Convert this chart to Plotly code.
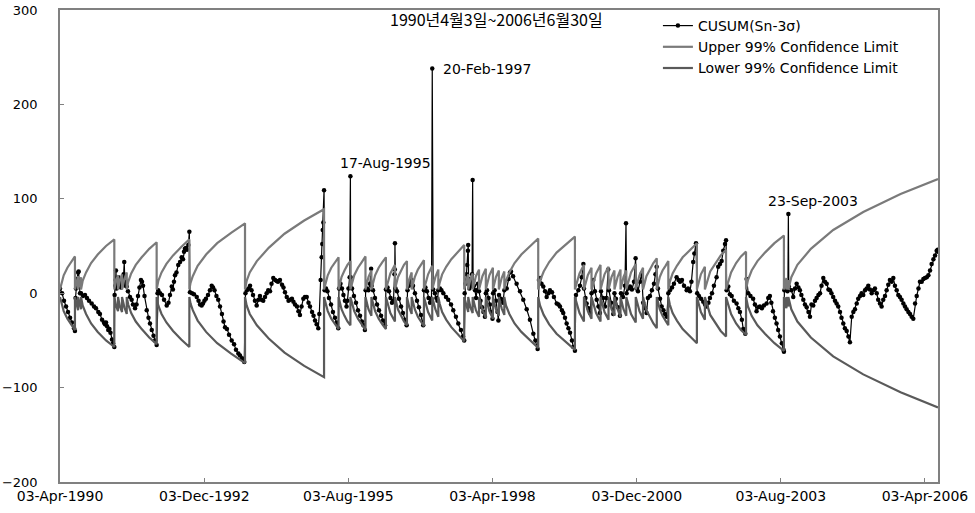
import pandas as pd
import plotly.graph_objects as go

START = pd.Timestamp("1990-04-03")

# ---- CUSUM(Sn-3sigma): day index since 1990-04-03 and value ----
cusum_day = [
    0, 14, 27, 41, 54, 68, 81, 95, 101,
    105, 108, 115, 122, 126, 130, 135,
    142, 155, 169, 182, 196, 214, 230, 243, 259, 270, 284, 297, 304, 311, 318, 326, 334, 341, 351, 358, 367,
    369, 374, 376, 378, 382, 387, 394, 399, 405, 412, 419, 426, 430, 434, 438, 443, 451, 459, 473, 484, 493, 507, 517, 527, 537, 547, 554, 561, 571, 586, 598, 608, 620, 632, 642, 653,
    659, 664, 676, 689, 703, 721, 733, 743, 755, 763, 770, 777, 787, 799, 811, 822, 831, 838, 844, 851, 858, 867, 874,
    878, 892, 905, 924, 936, 946, 957, 966, 976, 986, 1000, 1013, 1025, 1034, 1044, 1057, 1069, 1081, 1094, 1105, 1115, 1128, 1142, 1160, 1176, 1189, 1205, 1216, 1230, 1245,
    1253, 1263, 1273, 1284, 1294, 1304, 1317, 1329, 1341, 1351, 1361, 1373, 1385, 1396, 1407, 1419, 1429, 1441, 1453, 1464, 1473, 1486, 1500, 1510, 1520, 1532, 1544, 1554, 1567, 1577, 1588, 1601, 1611, 1621, 1632, 1644, 1655, 1667, 1679, 1689, 1703, 1713, 1723, 1734, 1745, 1752, 1761, 1768, 1772, 1775, 1779, 1784,
    1788, 1797, 1807, 1817, 1831, 1844, 1858, 1870, 1880,
    1885, 1895, 1905, 1915, 1925, 1936, 1942, 1949, 1957, 1962, 1964,
    1973, 1986, 2000, 2013, 2027, 2040, 2050, 2060,
    2065, 2074, 2084, 2094, 2102, 2106, 2115, 2128, 2142, 2155, 2169, 2182, 2196,
    2202, 2213, 2223, 2233, 2243, 2253, 2260, 2262, 2263, 2267, 2277, 2290, 2304, 2317, 2331, 2342,
    2348, 2358, 2368, 2376, 2385, 2398, 2412, 2425, 2439, 2454,
    2459, 2469, 2479, 2490, 2500, 2510, 2515, 2521, 2533, 2543, 2550,
    2556, 2567, 2577, 2590, 2608, 2623, 2642, 2657, 2675, 2691, 2709, 2723, 2731,
    2734, 2739, 2746, 2751, 2756, 2758, 2761, 2766, 2773, 2780, 2784, 2788, 2791, 2797, 2804, 2811, 2818, 2824, 2831, 2841, 2851, 2861, 2871,
    2877, 2885, 2895, 2905, 2915, 2922, 2926, 2936, 2946, 2956, 2962, 2966, 2979, 2993,
    3002, 3018, 3031, 3040, 3047, 3061, 3085, 3108, 3130, 3153, 3175, 3198, 3212, 3227,
    3236, 3243, 3253, 3265, 3277, 3288, 3300, 3310, 3324, 3337, 3356, 3368, 3378, 3391, 3400, 3412, 3423, 3435, 3446, 3459, 3468, 3479,
    3486, 3502, 3513, 3525, 3536, 3540, 3550, 3558, 3571, 3581, 3591, 3603, 3614, 3626, 3638, 3648, 3655, 3669, 3682, 3692, 3704, 3709, 3723, 3738, 3746, 3756, 3770, 3783, 3790, 3804, 3817, 3824, 3828, 3839, 3851, 3864, 3878, 3889, 3895, 3905, 3918, 3930, 3940, 3952, 3963, 3972, 3986, 3999, 4013, 4023, 4031, 4040, 4054, 4065, 4077, 4087, 4099,
    4110, 4121, 4135, 4148, 4166, 4179, 4189, 4202, 4216, 4234, 4243, 4256, 4266, 4278, 4286, 4297,
    4305, 4317, 4331, 4346, 4358, 4369, 4381, 4391, 4405, 4418, 4436, 4447, 4459, 4470, 4481, 4493, 4500,
    4504, 4515, 4526, 4538, 4553, 4571, 4583, 4594, 4607, 4616, 4630,
    4639, 4650, 4665, 4683, 4695, 4706, 4717, 4729, 4742, 4756, 4774, 4785, 4796, 4806, 4817, 4830, 4841, 4852, 4864, 4877, 4888, 4891,
    4894, 4905, 4915, 4918, 4921, 4924, 4942, 4954, 4966, 4977, 4989, 4999, 5009, 5022, 5033, 5045, 5057, 5067, 5077, 5089, 5101, 5112, 5124, 5135, 5145, 5157, 5168, 5180, 5192, 5202, 5212, 5224, 5236, 5247, 5258, 5270, 5280, 5292, 5303, 5315, 5327, 5337,
    5349, 5360, 5371, 5383, 5393, 5405, 5416, 5427, 5439, 5450, 5461, 5472, 5484, 5495, 5506, 5518, 5528, 5540, 5551, 5562, 5574, 5585, 5596, 5607, 5619, 5630, 5641, 5653, 5664, 5675, 5686, 5698, 5709, 5720, 5732, 5743, 5754, 5765,
    5777, 5788, 5800, 5810, 5822, 5833, 5844, 5856, 5867, 5878, 5889, 5901, 5912, 5923, 5930, 5932,
]
cusum_value = [
    5, 0, -8, -14, -20, -26, -31, -37, -40,
    -5, 5, 15, 22, 23, 10, 0,
    0, -3, -2, -5, -8, -11, -14, -16, -20, -22, -28, -31, -33, -31, -35, -39, -38, -42, -49, -53, -57,
    -2, 8, 14, 24, 5, 16, 17, 9, 14, 6, 12, 10, 20, 33, 12, 8, 7, 2, -4, -7, -12, -16, -12, -3, 6, 14, 12, 8, -3, -18, -26, -32, -39, -45, -50, -55,
    0, 3, 0, -2, -7, -13, -10, -2, 7, 4, 12, 19, 22, 30, 33, 38, 36, 44, 47, 48, 46, 51, 65,
    1, 0, -1, -4, -8, -12, -13, -11, -8, -6, -2, 3, 8, 6, 3, -3, -7, -14, -22, -30, -36, -38, -44, -50, -54, -60, -64, -66, -69, -73,
    0, 3, 5, 8, 3, -2, -8, -13, -7, -3, -7, -8, -4, 0, 3, 2, 10, 16, 14, 13, 12, 14, 9, 6, 1, -4, -8, -7, -6, -9, -12, -14, -19, -23, -14, -6, -4, -4, -10, -14, -20, -24, -29, -33, -37, -22, 14, 38, 52, 67, 75, 109,
    3, 5, 2, -5, -12, -20, -26, -31, -37,
    5, 10, 5, -2, -8, -14, -8, 5, 17, 124, 17,
    5, -3, -10, -18, -24, -30, -34, -39,
    3, 5, 3, 10, 26, 8, 3, -5, -12, -18, -24, -29, -34,
    4, 6, 2, -5, -10, -8, 20, 25, 53, 5, 2, -6, -14, -21, -28, -34,
    3, 8, 12, 14, 8, 0, -8, -15, -23, -34,
    3, 6, 2, -5, -10, -6, 238, 4, 0, -5, -8,
    3, 5, 3, 0, -4, -7, -12, -18, -25, -32, -39, -46, -50,
    0, 10, 20, 30, 45, 51, 10, 5, 15, 8, 20, 120, 12, 8, 3, -5, 3, 10, 2, -8, -15, -20, -25,
    0, 3, -5, -12, -20, -27, 0, 3, -8, -20, -29, -2, -6, -10,
    3, 5, 15, 22, 23, 18, 10, 2, -7, -17, -28, -43, -50, -59,
    14, 16, 10, 7, 2, -4, 0, 3, 1, -4, -11, -12, -14, -18, -21, -26, -32, -37, -42, -50, -57, -61,
    -2, 3, 8, 17, 31, 5, -5, -11, -16, -21, 0, 14, 2, -7, -14, -21, 2, -5, -14, -5, 25, 3, -10, -22, 0, -6, -15, -24, 0, -4, 8, 74, 0, 5, 7, 4, 12, 37, 5, 2, 12, 21, -10, -16, -21, -5, -3, 3, 10, 20, 28, 5, -6, -14, -18, -22, -25,
    0, 3, 6, 10, 17, 14, 12, 14, 8, 3, 5, 2, 12, 33, 42, 53,
    0, -3, -6, -9, -12, -14, -10, -5, 0, 8, 17, 28, 31, 34, 45, 52, 56,
    3, 7, -1, -3, -8, -11, -16, -20, -28, -38, -43,
    15, 0, -3, -6, -12, -19, -15, -14, -16, -13, -11, -5, -3, -10, -19, -26, -32, -39, -46, -53, -60, -62,
    3, 6, 2, 8, 84, 7, 3, -4, 5, 10, 6, 3, -2, -7, -12, -15, -20, -25, -12, -13, -8, -5, -2, 0, 8, 16, 12, 10, 4, 3, 0, -4, -8, -11, -14, -20, -26, -32, -37, -40, -46, -52,
    -25, -20, -17, -11, -6, -3, 0, -2, 3, 5, 8, 4, 0, 3, 5, 0, -7, -11, -14, -7, -3, 3, 9, 14, 12, 16, 8, 3, -2, -4, -7, -11, -14, -17, -20, -22, -25, -27,
    -11, -3, 5, 12, 12, 15, 16, 17, 19, 24, 31, 36, 40, 45, 46, 44,
]

# ---- 99% confidence limits (reset after each exceedance) ----
limit_day = [
    0, 25, 50, 75, 101,
    101, 111, 122,
    122, 132, 142,
    142, 153, 176, 210, 255, 311, 367,
    367, 380, 392,
    392, 405, 419,
    419, 435, 451,
    451, 461, 481, 512, 552, 603, 653,
    653, 664, 686, 719, 764, 819, 874,
    874, 882, 897, 930, 987, 1062, 1156, 1250,
    1250, 1261, 1282, 1330, 1410, 1517, 1650, 1784,
    1784, 1809, 1833, 1858, 1882,
    1882, 1902, 1922, 1942, 1962,
    1962, 1988, 2013, 2039, 2064,
    2064, 2084, 2104,
    2104, 2129, 2153, 2178, 2202,
    2202, 2232, 2263,
    2263, 2283, 2304, 2324, 2344,
    2344, 2360, 2376,
    2376, 2397, 2418, 2438, 2459,
    2459, 2487, 2515,
    2515, 2536, 2556,
    2556, 2565, 2582, 2609, 2644, 2687, 2731,
    2731, 2745, 2758,
    2758, 2773, 2788,
    2788, 2810, 2831,
    2831, 2854, 2877,
    2877, 2901, 2925,
    2925, 2945, 2965,
    2965, 2984, 3002,
    3002, 3013, 3036, 3071, 3117, 3174, 3231,
    3231, 3243, 3268, 3305, 3355, 3417, 3479,
    3479, 3510, 3540,
    3540, 3566, 3591,
    3591, 3622, 3652,
    3652, 3679, 3706,
    3706, 3726, 3746,
    3746, 3767, 3787,
    3787, 3807, 3826,
    3826, 3858, 3890,
    3890, 3915, 3939,
    3939, 3962, 3986, 4009, 4032,
    4032, 4052, 4071, 4091, 4110,
    4110, 4120, 4139, 4168, 4207, 4255, 4303,
    4303, 4330, 4357,
    4357, 4393, 4429, 4464, 4500,
    4500, 4534, 4568, 4601, 4635,
    4635, 4648, 4673, 4712, 4763, 4827, 4891,
    4891, 4900, 4908,
    4908, 4915, 4921,
    4921, 4941, 4982, 5073, 5224, 5427, 5679, 5932,
]
upper_limit = [
    4, 19, 27, 33, 39,
    4, 12, 18,
    4, 12, 17,
    4, 13, 22, 32, 41, 50, 57,
    4, 14, 19,
    4, 14, 20,
    4, 15, 22,
    4, 12, 21, 30, 38, 47, 54,
    4, 13, 22, 31, 40, 49, 57,
    4, 11, 18, 29, 41, 53, 64, 74,
    4, 13, 22, 34, 48, 63, 77, 89,
    4, 19, 27, 33, 38,
    4, 17, 24, 30, 34,
    4, 19, 27, 33, 39,
    4, 17, 24,
    4, 19, 27, 33, 38,
    4, 21, 30,
    4, 17, 24, 30, 34,
    4, 15, 22,
    4, 17, 25, 30, 35,
    4, 20, 29,
    4, 17, 25,
    4, 11, 20, 28, 36, 44, 51,
    4, 14, 20,
    4, 15, 21,
    4, 18, 25,
    4, 18, 26,
    4, 19, 27,
    4, 17, 24,
    4, 16, 23,
    4, 13, 22, 32, 41, 50, 58,
    4, 13, 23, 33, 43, 52, 60,
    4, 21, 30,
    4, 19, 27,
    4, 21, 30,
    4, 20, 28,
    4, 17, 24,
    4, 17, 25,
    4, 17, 24,
    4, 22, 31,
    4, 19, 27,
    4, 18, 26, 32, 37,
    4, 17, 24, 29, 34,
    4, 12, 21, 29, 38, 46, 53,
    4, 20, 28,
    4, 23, 32, 40, 46,
    4, 22, 32, 39, 44,
    4, 14, 24, 34, 43, 53, 61,
    4, 11, 16,
    4, 10, 14,
    4, 17, 30, 47, 67, 86, 105, 121,
]
lower_limit = [
    -4, -19, -27, -33, -39,
    -4, -12, -18,
    -4, -12, -17,
    -4, -13, -22, -32, -41, -50, -57,
    -4, -14, -19,
    -4, -14, -20,
    -4, -15, -22,
    -4, -12, -21, -30, -38, -47, -54,
    -4, -13, -22, -31, -40, -49, -57,
    -4, -11, -18, -29, -41, -53, -64, -74,
    -4, -13, -22, -34, -48, -63, -77, -89,
    -4, -19, -27, -33, -38,
    -4, -17, -24, -30, -34,
    -4, -19, -27, -33, -39,
    -4, -17, -24,
    -4, -19, -27, -33, -38,
    -4, -21, -30,
    -4, -17, -24, -30, -34,
    -4, -15, -22,
    -4, -17, -25, -30, -35,
    -4, -20, -29,
    -4, -17, -25,
    -4, -11, -20, -28, -36, -44, -51,
    -4, -14, -20,
    -4, -15, -21,
    -4, -18, -25,
    -4, -18, -26,
    -4, -19, -27,
    -4, -17, -24,
    -4, -16, -23,
    -4, -13, -22, -32, -41, -50, -58,
    -4, -13, -23, -33, -43, -52, -60,
    -4, -21, -30,
    -4, -19, -27,
    -4, -21, -30,
    -4, -20, -28,
    -4, -17, -24,
    -4, -17, -25,
    -4, -17, -24,
    -4, -22, -31,
    -4, -19, -27,
    -4, -18, -26, -32, -37,
    -4, -17, -24, -29, -34,
    -4, -12, -21, -29, -38, -46, -53,
    -4, -20, -28,
    -4, -23, -32, -40, -46,
    -4, -22, -32, -39, -44,
    -4, -14, -24, -34, -43, -53, -61,
    -4, -11, -16,
    -4, -10, -14,
    -4, -17, -30, -47, -67, -86, -105, -121,
]

x_tick_dates = ["1990-04-03", "1992-12-03", "1995-08-03", "1998-04-03",
                "2000-12-03", "2003-08-03", "2006-04-03"]
x_tick_labels = ["03-Apr-1990", "03-Dec-1992", "03-Aug-1995", "03-Apr-1998",
                 "03-Dec-2000", "03-Aug-2003", "03-Apr-2006"]
y_tick_values = [-200, -100, 0, 100, 200, 300]
event_dates = ["1995-08-17", "1997-02-20", "2003-09-23"]
event_labels = ["17-Aug-1995", "20-Feb-1997", "23-Sep-2003"]

n = min(len(cusum_day), len(cusum_value))
cx = START + pd.to_timedelta(cusum_day[:n], unit="D")
m = min(len(limit_day), len(upper_limit), len(lower_limit))
lx = START + pd.to_timedelta(limit_day[:m], unit="D")

FONT = "DejaVu Sans, Noto Sans CJK KR, sans-serif"
GRAY = "#808080"

fig = go.Figure()
fig.add_trace(go.Scatter(
    x=cx, y=cusum_value[:n], mode="lines+markers", name="CUSUM(Sn-3σ)",
    line=dict(color="black", width=1.2),
    marker=dict(color="black", size=4.5, symbol="circle"),
))
fig.add_trace(go.Scatter(
    x=lx, y=upper_limit[:m], mode="lines", name="Upper 99% Confidence Limit",
    line=dict(color="#7a7a7a", width=2.2),
))
fig.add_trace(go.Scatter(
    x=lx, y=lower_limit[:m], mode="lines", name="Lower 99% Confidence Limit",
    line=dict(color="#5a5a5a", width=2.2),
))

# event labels (label placement only)
label_y = [138, 238, 98]
label_shift = [-12, 9, -22]
for d, lab, yv, sh in zip(event_dates, event_labels, label_y, label_shift):
    fig.add_annotation(x=d, y=yv, text=lab, showarrow=False, xanchor="left",
                       yanchor="middle", xshift=sh,
                       font=dict(family=FONT, size=14, color="black"))

fig.add_annotation(x=0.4966, y=0.981, xref="paper", yref="paper",
                   text="1990년4월3일~2006년6월30일", showarrow=False,
                   xanchor="center", yanchor="middle",
                   font=dict(family="Noto Sans CJK KR, DejaVu Sans", size=16, color="black"))

fig.update_layout(
    width=975, height=513,
    margin=dict(l=60, r=37, t=10, b=31),
    paper_bgcolor="white", plot_bgcolor="white",
    font=dict(family=FONT, size=14, color="black"),
    showlegend=True,
    legend=dict(x=0.681, y=1.0, xanchor="left", yanchor="top",
                bgcolor="rgba(0,0,0,0)", font=dict(family=FONT, size=14),
                tracegroupgap=0, itemwidth=30),
)
fig.update_xaxes(
    type="date", range=["1990-04-03", "2006-06-30"],
    tickmode="array", tickvals=x_tick_dates, ticktext=x_tick_labels,
    ticks="inside", ticklen=4, tickcolor=GRAY,
    showgrid=False, zeroline=False, automargin=False,
    showline=True, linecolor=GRAY, linewidth=1.5, mirror=True,
    tickfont=dict(family=FONT, size=14), ticklabeloverflow="allow",
)
fig.update_yaxes(
    range=[-200, 300], tickmode="array", tickvals=y_tick_values,
    ticks="inside", ticklen=4, tickcolor=GRAY,
    showgrid=False, zeroline=False, automargin=False,
    showline=True, linecolor=GRAY, linewidth=1.5, mirror=True,
    tickfont=dict(family=FONT, size=13), ticklabelstandoff=18,
    ticklabeloverflow="allow",
)

# remove the browser's default 8 px body margin so the figure fills the window
fig.write_html("out.html", config={"displayModeBar": False},
               post_script="document.body.style.margin='0px';")
